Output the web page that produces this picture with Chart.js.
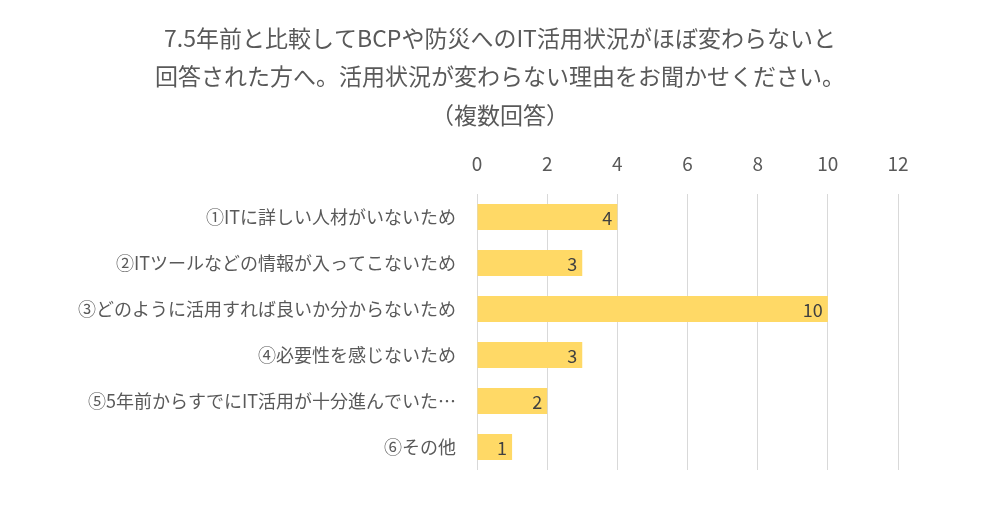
<!DOCTYPE html>
<html>
<head>
<meta charset="utf-8">
<script src="https://cdn.jsdelivr.net/npm/chart.js@4"></script>
<style>
  html, body { margin: 0; padding: 0; background: #fff; }
  #wrap { width: 1000px; height: 522px; }
</style>
</head>
<body>
<div id="wrap"><canvas id="chart"></canvas></div>
<script>
const titleLines = [
  '7.5年前と比較してBCPや防災へのIT活用状況がほぼ変わらないと',
  '回答された方へ。活用状況が変わらない理由をお聞かせください。',
  '（複数回答）'
];
const categories = [
  '①ITに詳しい人材がいないため',
  '②ITツールなどの情報が入ってこないため',
  '③どのように活用すれば良いか分からないため',
  '④必要性を感じないため',
  '⑤5年前からすでにIT活用が十分進んでいた…',
  '⑥その他'
];
const counts = [4, 3, 10, 3, 2, 1];
const axisMin = 0;
const axisMax = 12;
const axisStep = 2;

const FONT = '"Noto Sans CJK JP", "Noto Sans", sans-serif';
const GRAY = '#595959';

// タイトルはキャンバス全体の中央に描く
const pageTitle = {
  id: 'pageTitle',
  afterDraw(chart) {
    const ctx = chart.ctx;
    ctx.save();
    ctx.font = '23px ' + FONT;
    ctx.fillStyle = GRAY;
    ctx.textAlign = 'center';
    ctx.textBaseline = 'middle';
    titleLines.forEach((line, i) => {
      ctx.fillText(line, chart.width / 2, 38 + i * 38.5);
    });
    ctx.restore();
  }
};

// 棒の先端内側に値を描く
const valueLabels = {
  id: 'valueLabels',
  afterDatasetsDraw(chart) {
    const ctx = chart.ctx;
    const meta = chart.getDatasetMeta(0);
    ctx.save();
    ctx.font = '18px ' + FONT;
    ctx.fillStyle = '#404040';
    ctx.textAlign = 'right';
    ctx.textBaseline = 'middle';
    meta.data.forEach((bar, i) => {
      ctx.fillText(String(counts[i]), bar.x - 5, bar.y + 1);
    });
    ctx.restore();
  }
};

new Chart(document.getElementById('chart').getContext('2d'), {
  type: 'bar',
  data: {
    labels: categories,
    datasets: [{
      data: counts,
      backgroundColor: '#FFD966',
      barPercentage: 0.57,
      categoryPercentage: 1
    }]
  },
  options: {
    indexAxis: 'y',
    responsive: true,
    maintainAspectRatio: false,
    animation: false,
    layout: { padding: { left: 0, right: 102, top: 133, bottom: 52 } },
    plugins: {
      legend: { display: false },
      tooltip: { enabled: false },
      title: { display: false }
    },
    scales: {
      x: {
        position: 'top',
        min: axisMin,
        max: axisMax,
        ticks: {
          stepSize: axisStep,
          color: GRAY,
          font: { family: FONT, size: 19 },
          padding: 19
        },
        grid: { color: '#D9D9D9', drawTicks: false },
        border: { display: false },
        afterFit(scale) { scale.height = 61; }
      },
      y: {
        ticks: {
          color: GRAY,
          font: { family: FONT, size: 18 },
          padding: 13
        },
        grid: { display: false },
        border: { display: false },
        afterFit(scale) { scale.width = 477; }
      }
    }
  },
  plugins: [valueLabels, pageTitle]
});
</script>
</body>
</html>
